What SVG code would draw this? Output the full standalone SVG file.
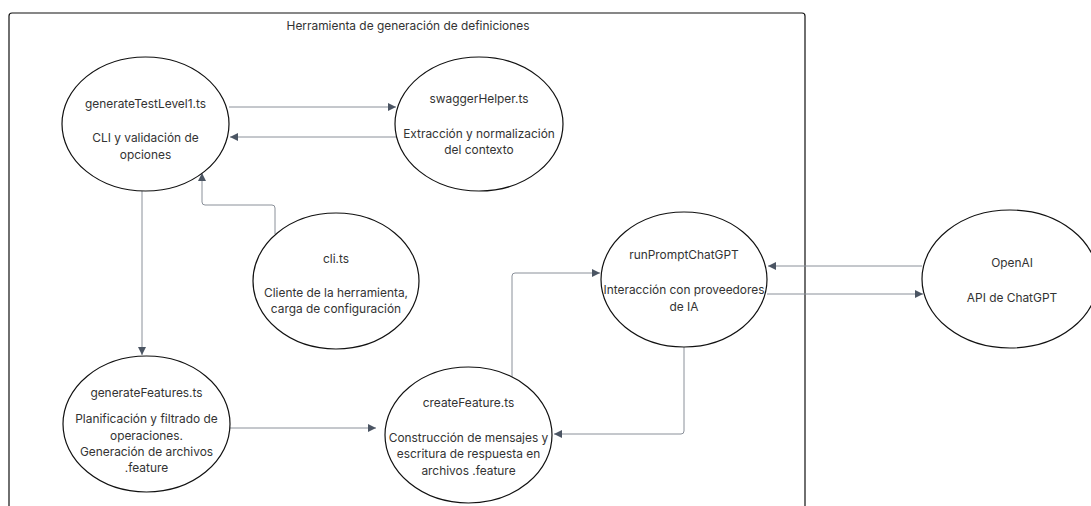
<svg xmlns="http://www.w3.org/2000/svg" width="1091" height="506" viewBox="0 0 1091 506">
<style>
  .node ellipse { fill: #ffffff; stroke: #111111; stroke-width: 1.2; }
  .node text, .title { font-family: Inter, "Liberation Sans", sans-serif; font-size: 11.9px; fill: #333333; text-anchor: middle; dominant-baseline: central; }
  .conn path { fill: none; stroke: #8a9099; stroke-width: 1; }
</style>
<defs>
  <marker id="ah" viewBox="0 0 10 10" refX="10" refY="5" markerWidth="10" markerHeight="8" markerUnits="userSpaceOnUse" orient="auto">
    <path d="M0,0 L10,5 L0,10 z" fill="#4b5563"/>
  </marker>
</defs>
<rect width="1091" height="506" fill="#ffffff"/>
<g id="container">
  <rect x="9" y="13" width="796" height="520" rx="3" fill="none" stroke="#111111" stroke-width="1.2"/>
  <text class="title" x="408" y="25">Herramienta de generación de definiciones</text>
</g>
<g class="conn" id="connectors">
  <path d="M229,107 L396,107" marker-end="url(#ah)"/>
  <path d="M396,137 L230,137" marker-end="url(#ah)"/>
  <path d="M275,234 L275,208 Q275,205 272,205 L205,205 Q202,205 202,202 L202,173" marker-end="url(#ah)"/>
  <path d="M142,191 L142,355" marker-end="url(#ah)"/>
  <path d="M230,428 L376,428" marker-end="url(#ah)"/>
  <path d="M512,377 L512,276 Q512,273 515,273 L600,273" marker-end="url(#ah)"/>
  <path d="M684,347 L684,431 Q684,434 681,434 L554,434" marker-end="url(#ah)"/>
  <path d="M922,266 L768,266" marker-end="url(#ah)"/>
  <path d="M767,294 L923,294" marker-end="url(#ah)"/>
</g>
<g class="node" id="generateTestLevel1">
  <ellipse cx="145.5" cy="124" rx="83.5" ry="67"/>
  <text x="145.5" y="103">generateTestLevel1.ts</text>
  <text x="145.5" y="137">CLI y validación de</text>
  <text x="145.5" y="154">opciones</text>
</g>
<g class="node" id="swaggerHelper">
  <ellipse cx="479" cy="124" rx="84" ry="67"/>
  <text x="479" y="98">swaggerHelper.ts</text>
  <text x="479" y="133">Extracción y normalización</text>
  <text x="479" y="149">del contexto</text>
</g>
<g class="node" id="cli">
  <ellipse cx="336" cy="281" rx="83" ry="68"/>
  <text x="336" y="258">cli.ts</text>
  <text x="336" y="292">Cliente de la herramienta,</text>
  <text x="336" y="308">carga de configuración</text>
</g>
<g class="node" id="generateFeatures">
  <ellipse cx="146.5" cy="424" rx="83.5" ry="68"/>
  <text x="146.5" y="392">generateFeatures.ts</text>
  <text x="146.5" y="418">Planificación y filtrado de</text>
  <text x="146.5" y="435">operaciones.</text>
  <text x="146.5" y="451">Generación de archivos</text>
  <text x="146.5" y="467">.feature</text>
</g>
<g class="node" id="createFeature">
  <ellipse cx="468.5" cy="435" rx="83.5" ry="68"/>
  <text x="468.5" y="402">createFeature.ts</text>
  <text x="468.5" y="437">Construcción de mensajes y</text>
  <text x="468.5" y="453">escritura de respuesta en</text>
  <text x="468.5" y="470">archivos .feature</text>
</g>
<g class="node" id="runPromptChatGPT">
  <ellipse cx="684" cy="279.5" rx="83" ry="67.5"/>
  <text x="684" y="254">runPromptChatGPT</text>
  <text x="684" y="289">Interacción con proveedores</text>
  <text x="684" y="306">de IA</text>
</g>
<g class="node" id="openai">
  <ellipse cx="1010" cy="279" rx="88" ry="69"/>
  <text x="1012" y="262">OpenAI</text>
  <text x="1012" y="297">API de ChatGPT</text>
</g>
</svg>
